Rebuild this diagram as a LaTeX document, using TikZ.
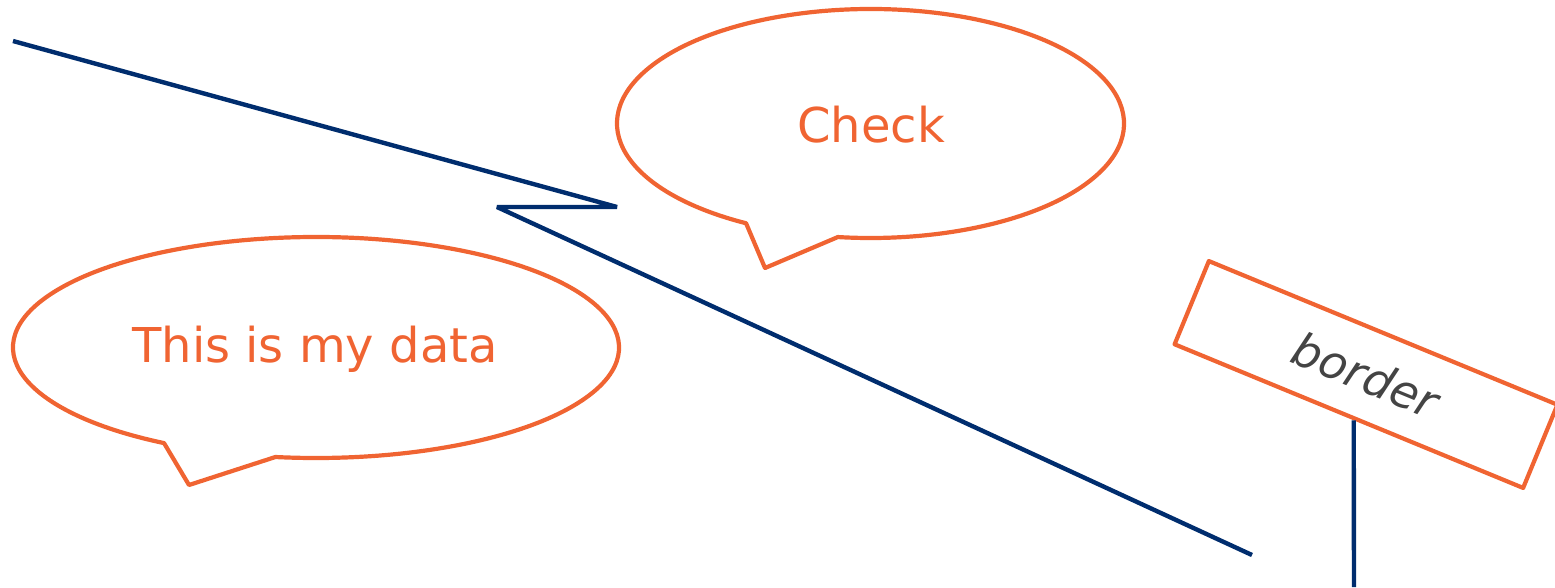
\documentclass[tikz,border=0pt]{standalone}
\usepackage{fontspec}
\setmainfont{DejaVu Sans}
\usetikzlibrary{calc}
\definecolor{navy}{RGB}{0,45,110}
\definecolor{orng}{RGB}{240,100,50}
\definecolor{txtgray}{RGB}{68,68,68}
\begin{document}
\begin{tikzpicture}[x=1pt,y=-1pt,
  navyline/.style={draw=navy,line width=4.4pt,line join=bevel},
  calloutline/.style={draw=orng,line width=4.2pt,line join=round},
  callouttext/.style={text=orng,font=\fontsize{48}{56}\selectfont,inner sep=0pt},
  borderbox/.style={draw=orng,line width=4.2pt,line join=round,minimum width=377pt,minimum height=90pt,rotate=-22.4,inner sep=0pt,text=txtgray,font=\fontsize{46}{52}\selectfont\itshape}]
\useasboundingbox (0,0) rectangle (1555,587);
\clip (0,0) rectangle (1555,587);
% navy polyline
\coordinate (p1) at (13,41);
\coordinate (p2) at (617,207);
\coordinate (p3) at (497,207);
\coordinate (p4) at (1252,555);
\draw[navyline] (p1) -- (p2) -- (p3) -- (p4);
% Check callout
\coordinate (ctip) at (765,268);
\draw[calloutline] (ctip) -- ($(870.5,123.5)+(119.4:253.5 and 114.5)$) arc[start angle=119.4,end angle=457.4,x radius=253.5,y radius=114.5] -- cycle;
\node[callouttext] (check) at (871,125) {Check};
% data callout
\coordinate (dtip) at (189,485);
\draw[calloutline] (dtip) -- ($(316,347.5)+(120.1:303 and 110.5)$) arc[start angle=120.1,end angle=457.7,x radius=303,y radius=110.5] -- cycle;
\node[callouttext] (data) at (315,349) {This is my data};
% border box
\node[borderbox] (border) at (1366,374.5) {border};
\coordinate (vend) at (1354,587);
\draw[navyline] ($(border.south west)!0.516!(border.south east)$) -- (vend);
\end{tikzpicture}
\end{document}
